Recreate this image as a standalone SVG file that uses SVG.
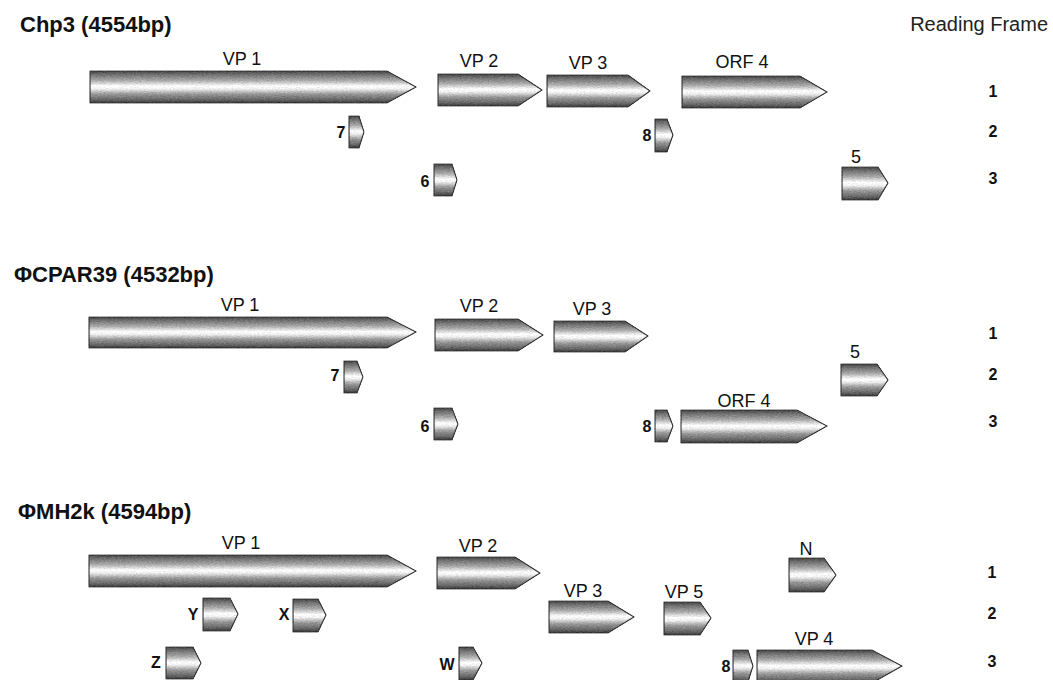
<svg xmlns="http://www.w3.org/2000/svg" width="1053" height="680" viewBox="0 0 1053 680">
<defs>
<linearGradient id="shade" x1="0" y1="0" x2="0" y2="1">
<stop offset="0" stop-color="#454545"/>
<stop offset="0.12" stop-color="#737373"/>
<stop offset="0.3" stop-color="#ababab"/>
<stop offset="0.47" stop-color="#ffffff"/>
<stop offset="0.56" stop-color="#f0f0f0"/>
<stop offset="0.72" stop-color="#989898"/>
<stop offset="0.9" stop-color="#656565"/>
<stop offset="1" stop-color="#383838"/>
</linearGradient>
<filter id="grain" x="-0.1" y="-0.15" width="1.2" height="1.3" color-interpolation-filters="sRGB">
<feTurbulence type="fractalNoise" baseFrequency="0.5 1.2" numOctaves="2" seed="7" result="n"/>
<feColorMatrix in="n" type="matrix" values="0.33 0.33 0.33 0 0  0.33 0.33 0.33 0 0  0.33 0.33 0.33 0 0  0 0 0 0 1" result="g"/>
<feComposite in="SourceGraphic" in2="g" operator="arithmetic" k1="0" k2="1" k3="0.4" k4="-0.2" result="t"/>
<feComposite in="t" in2="SourceGraphic" operator="in"/>
</filter>
</defs>
<style>
.gene{fill:url(#shade);stroke:#333333;stroke-width:1.2;stroke-linejoin:miter;filter:url(#grain)}
.title{font-family:"Liberation Sans",Arial,sans-serif;font-weight:bold;font-size:22px;fill:#111}
.head{font-family:"Liberation Sans",Arial,sans-serif;font-size:20px;fill:#222}
.lbl{font-family:"Liberation Sans",Arial,sans-serif;font-size:18px;fill:#111;text-anchor:middle}
.sm{font-family:"Liberation Sans",Arial,sans-serif;font-weight:bold;font-size:16px;fill:#111;text-anchor:middle}
.rf{font-family:"Liberation Sans",Arial,sans-serif;font-weight:bold;font-size:16px;fill:#111;text-anchor:middle}
</style>
<rect width="1053" height="680" fill="#ffffff"/>

<g id="connectors"/>

<!-- Section 1: Chp3 -->
<g id="chp3-title"><text class="title" x="20" y="32">Chp3 (4554bp)</text></g>
<g id="reading-frame-header"><text class="head" x="1048" y="31" text-anchor="end">Reading Frame</text></g>
<g id="chp3-frames">
<text class="rf" x="993" y="97">1</text>
<text class="rf" x="993" y="137">2</text>
<text class="rf" x="993" y="184">3</text>
</g>
<g id="chp3-vp1"><polygon class="gene" points="90,71 387,71 416,87 387,103 90,103"/><text class="lbl" x="242" y="65">VP 1</text></g>
<g id="chp3-vp2"><polygon class="gene" points="438,74 518,74 542,90 518,106 438,106"/><text class="lbl" x="479" y="67">VP 2</text></g>
<g id="chp3-vp3"><polygon class="gene" points="547,75 628,75 650,91 628,107 547,107"/><text class="lbl" x="588" y="69">VP 3</text></g>
<g id="chp3-orf4"><polygon class="gene" points="682,76 800,76 827,92 800,108 682,108"/><text class="lbl" x="742" y="68">ORF 4</text></g>
<g id="chp3-7"><polygon class="gene" points="349,116 359,116 364,132 359,148 349,148"/><text class="sm" x="341" y="138">7</text></g>
<g id="chp3-8"><polygon class="gene" points="655,119 667,119 673,135 667,152 655,152"/><text class="sm" x="647" y="141">8</text></g>
<g id="chp3-6"><polygon class="gene" points="434,164 452,164 457,180 452,196 434,196"/><text class="sm" x="425" y="187">6</text></g>
<g id="chp3-5"><polygon class="gene" points="842,167 878,167 888,183 878,200 842,200"/><text class="lbl" x="856" y="163">5</text></g>

<!-- Section 2: PhiCPAR39 -->
<g id="cpar39-title"><text class="title" x="14" y="282">ΦCPAR39 (4532bp)</text></g>
<g id="cpar39-frames">
<text class="rf" x="993" y="339">1</text>
<text class="rf" x="993" y="380">2</text>
<text class="rf" x="993" y="427">3</text>
</g>
<g id="cpar39-vp1"><polygon class="gene" points="89,317 387,317 416,332 387,348 89,348"/><text class="lbl" x="240" y="311">VP 1</text></g>
<g id="cpar39-vp2"><polygon class="gene" points="435,319 518,319 543,335 518,351 435,351"/><text class="lbl" x="479" y="312">VP 2</text></g>
<g id="cpar39-vp3"><polygon class="gene" points="554,321 625,321 648,336 625,352 554,352"/><text class="lbl" x="592" y="315">VP 3</text></g>
<g id="cpar39-7"><polygon class="gene" points="344,361 357,361 363,377 357,393 344,393"/><text class="sm" x="335" y="381">7</text></g>
<g id="cpar39-6"><polygon class="gene" points="434,408 452,408 458,424 452,440 434,440"/><text class="sm" x="425" y="432">6</text></g>
<g id="cpar39-8"><polygon class="gene" points="655,410 667,410 673,426 667,442 655,442"/><text class="sm" x="647" y="432">8</text></g>
<g id="cpar39-orf4"><polygon class="gene" points="681,410 797,410 827,426 797,443 681,443"/><text class="lbl" x="744" y="407">ORF 4</text></g>
<g id="cpar39-5"><polygon class="gene" points="841,364 877,364 888,380 877,396 841,396"/><text class="lbl" x="855" y="358">5</text></g>

<!-- Section 3: PhiMH2k -->
<g id="mh2k-title"><text class="title" x="18" y="519">ΦMH2k (4594bp)</text></g>
<g id="mh2k-frames">
<text class="rf" x="992" y="578">1</text>
<text class="rf" x="992" y="619">2</text>
<text class="rf" x="992" y="667">3</text>
</g>
<g id="mh2k-vp1"><polygon class="gene" points="89,555 387,555 416,571 387,587 89,587"/><text class="lbl" x="241" y="549">VP 1</text></g>
<g id="mh2k-vp2"><polygon class="gene" points="437,557 515,557 540,573 515,589 437,589"/><text class="lbl" x="478" y="552">VP 2</text></g>
<g id="mh2k-vp3"><polygon class="gene" points="549,601 608,601 634,617 608,633 549,633"/><text class="lbl" x="583" y="597">VP 3</text></g>
<g id="mh2k-vp5"><polygon class="gene" points="664,602 700,602 711,618 700,635 664,635"/><text class="lbl" x="684" y="598">VP 5</text></g>
<g id="mh2k-n"><polygon class="gene" points="789,558 824,558 836,575 824,592 789,592"/><text class="lbl" x="806" y="555">N</text></g>
<g id="mh2k-y"><polygon class="gene" points="203,598 230,598 238,614 230,631 203,631"/><text class="sm" x="193" y="620">Y</text></g>
<g id="mh2k-x"><polygon class="gene" points="293,599 318,599 326,615 318,632 293,632"/><text class="sm" x="284" y="620">X</text></g>
<g id="mh2k-z"><polygon class="gene" points="166,647 193,647 201,663 193,679 166,679"/><text class="sm" x="156" y="668">Z</text></g>
<g id="mh2k-w"><polygon class="gene" points="459,647 473,647 482,663 473,680 459,680"/><text class="sm" x="447" y="670">W</text></g>
<g id="mh2k-8"><polygon class="gene" points="733,650 748,650 753,666 748,682 733,682"/><text class="sm" x="726" y="672">8</text></g>
<g id="mh2k-vp4"><polygon class="gene" points="757,650 872,650 902,666 872,683 757,683"/><text class="lbl" x="814" y="645">VP 4</text></g>
</svg>
